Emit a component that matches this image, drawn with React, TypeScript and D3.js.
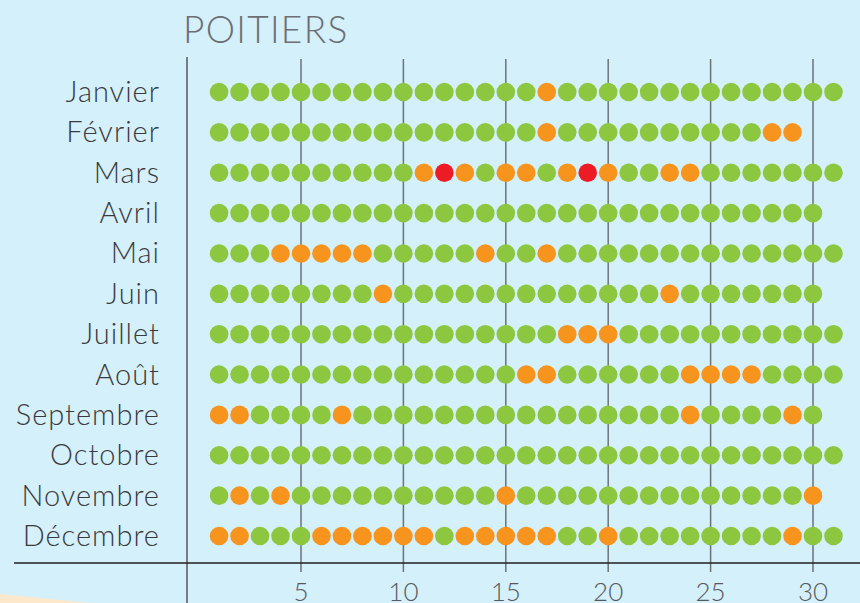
import { useEffect, useRef } from 'react'
import * as d3 from 'd3'

const months = ['Janvier', 'Février', 'Mars', 'Avril', 'Mai', 'Juin', 'Juillet', 'Août', 'Septembre', 'Octobre', 'Novembre', 'Décembre']
const monthDays = [31, 29, 31, 30, 31, 30, 31, 31, 30, 31, 30, 31]
// days with an orange dot, per month
const orangeDays = [
  [17],
  [17, 28, 29],
  [11, 13, 15, 16, 18, 20, 23, 24],
  [],
  [4, 5, 6, 7, 8, 14, 17],
  [9, 23],
  [18, 19, 20],
  [16, 17, 24, 25, 26, 27],
  [1, 2, 7, 24, 29],
  [],
  [2, 4, 15, 30],
  [1, 2, 6, 7, 8, 9, 10, 11, 13, 14, 15, 16, 17, 20, 29]
]
// days with a red dot, per month
const redDays = [[], [], [12, 19], [], [], [], [], [], [], [], [], []]
const xTicks = [5, 10, 15, 20, 25, 30]
const title = 'POITIERS'

export default function App() {
  const svgRef = useRef<SVGSVGElement>(null)

  useEffect(() => {
    const width = 860
    const height = 603
    const svg = d3.select(svgRef.current)
      .attr('width', width)
      .attr('height', height)
    svg.selectAll('*').remove()

    const font = "Lato, 'Open Sans', sans-serif"

    svg.append('rect').attr('width', width).attr('height', height).attr('fill', '#d4f0fb')
    // peach corner shape
    svg.append('path')
      .attr('d', 'M0,594 L120,606 L0,606 Z')
      .attr('fill', '#fde8cc')

    const x = d3.scaleLinear().domain([5, 30]).range([301, 813])
    const y = d3.scalePoint<string>().domain(months).range([92, 536])

    // grid lines
    svg.append('g')
      .selectAll('line')
      .data(xTicks)
      .join('line')
      .attr('x1', d => x(d))
      .attr('x2', d => x(d))
      .attr('y1', 59)
      .attr('y2', 572)
      .attr('stroke', '#6d7378')
      .attr('stroke-width', 1.5)

    // left axis line
    svg.append('line')
      .attr('x1', 187).attr('x2', 187)
      .attr('y1', 57).attr('y2', height)
      .attr('stroke', '#55595c')
      .attr('stroke-width', 1.5)

    // bottom line
    svg.append('line')
      .attr('x1', 14).attr('x2', width)
      .attr('y1', 563).attr('y2', 563)
      .attr('stroke', '#231f20')
      .attr('stroke-width', 1.5)

    // dots
    const dots: { m: string; day: number; color: string }[] = []
    months.forEach((m, i) => {
      for (let day = 1; day <= monthDays[i]; day++) {
        let color = '#8dc63f'
        if (orangeDays[i].includes(day)) color = '#f7941d'
        if (redDays[i].includes(day)) color = '#ed1c24'
        dots.push({ m, day, color })
      }
    })
    svg.append('g')
      .selectAll('circle')
      .data(dots)
      .join('circle')
      .attr('cx', d => x(d.day))
      .attr('cy', d => y(d.m)!)
      .attr('r', 9.3)
      .attr('fill', d => d.color)

    // month labels
    svg.append('g')
      .selectAll('text')
      .data(months)
      .join('text')
      .attr('x', 160)
      .attr('y', d => y(d)! + 10)
      .attr('text-anchor', 'end')
      .attr('font-family', font)
      .attr('font-weight', 300)
      .attr('font-size', 29)
      .attr('letter-spacing', 1)
      .attr('fill', '#3a3a3c')
      .text(d => d)

    // x tick labels
    svg.append('g')
      .selectAll('text')
      .data(xTicks)
      .join('text')
      .attr('x', d => x(d))
      .attr('y', 601)
      .attr('text-anchor', 'middle')
      .attr('font-family', font)
      .attr('font-weight', 300)
      .attr('font-size', 26)
      .attr('fill', '#58595b')
      .text(d => d)

    // title
    svg.append('text')
      .attr('x', 183)
      .attr('y', 43)
      .attr('font-family', font)
      .attr('font-weight', 300)
      .attr('font-size', 37)
      .attr('letter-spacing', 1.3)
      .attr('fill', '#6d6e71')
      .text(title)
  }, [])

  return (
    <div style={{ position: 'absolute', left: 0, top: 0 }}>
      <svg ref={svgRef} style={{ display: 'block' }}></svg>
    </div>
  )
}
